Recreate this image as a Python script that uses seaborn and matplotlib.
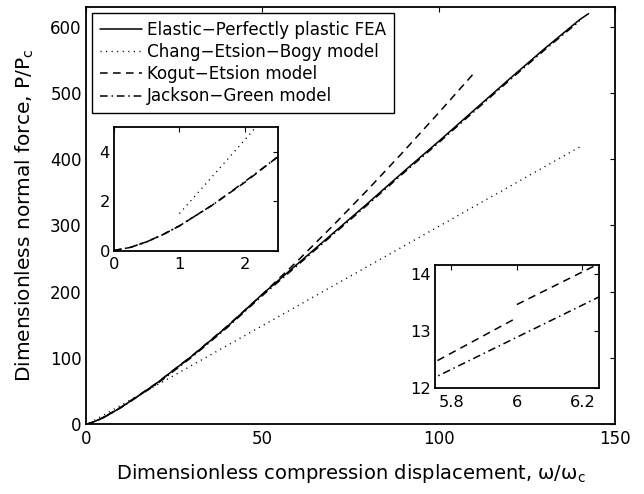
import matplotlib
matplotlib.use("Agg")
import matplotlib.pyplot as plt
import seaborn as sns
import pandas as pd

# ---- data ----
fea_x = [0, 0.5, 1, 2, 5, 10, 15, 20, 30, 40, 50, 60, 70, 80, 90, 100, 110, 120, 130, 140, 142.5]
fea_y = [0, 0.35, 1, 2.8, 9.6, 25.3, 43, 61.5, 102.5, 147, 196, 242, 288, 334, 381, 427, 474, 521, 567, 611, 620]

ceb_x = [0, 0.25, 0.5, 0.75, 1.0, 1.0, 2.0, 50, 100, 141]
ceb_y = [0, 0.125, 0.354, 0.65, 1.0, 1.5, 4.5, 148.5, 298.5, 421.5]

ke_x = [0, 0.25, 0.5, 0.75, 1.0, 1.5, 2.0, 2.5, 4.0, 5.75, 6.0, 6.0, 6.25, 10, 20, 30, 40, 50, 60, 70, 80, 90, 100, 110]
ke_y = [0, 0.125, 0.354, 0.65, 1.0, 1.84, 2.77, 3.80, 7.43, 12.46, 13.23, 13.46, 14.17, 25.65, 61.6, 102.8, 147.7, 195.8, 246.5, 299.6, 354.6, 411.5, 470.1, 530]

jg_x = [0, 0.25, 0.5, 0.75, 1.0, 1.5, 2.0, 2.5, 4.0, 5.75, 6.0, 6.25, 10, 20, 30, 40, 50, 60, 70, 80, 90, 100, 110, 120, 130, 140]
jg_y = [0, 0.125, 0.354, 0.65, 1.0, 1.84, 2.80, 3.80, 7.5, 12.19, 12.89, 13.59, 25, 60, 101, 145.5, 194, 240, 286, 332, 379, 425, 472, 519, 565, 609]

labels = ["Elastic\u2212Perfectly plastic FEA", "Chang\u2212Etsion\u2212Bogy model",
          "Kogut\u2212Etsion model", "Jackson\u2212Green model"]

x_ticks = [0, 50, 100, 150]
y_ticks = [0, 100, 200, 300, 400, 500, 600]
in1_xticks = [0, 1, 2]
in1_yticks = [0, 2, 4]
in2_xticks = [5.8, 6.0, 6.2]
in2_xticklabels = ["5.8", "6", "6.2"]
in2_yticks = [12, 13, 14]

sns.set_style("white")
plt.rcParams["font.family"] = ["DejaVu Sans"]
plt.rcParams["mathtext.fontset"] = "dejavusans"
plt.rcParams["text.color"] = "black"
plt.rcParams["axes.labelcolor"] = "black"
plt.rcParams["xtick.color"] = "black"
plt.rcParams["ytick.color"] = "black"

fig = plt.figure(figsize=(6.44, 4.94), dpi=100)
ax = fig.add_axes([0.1335, 0.1417, 0.8215, 0.8441])

styles = {
    "fea": dict(linestyle="-", lw=1.1),
    "ceb": dict(linestyle=(0, (0.8, 3.2)), lw=1.0),
    "ke": dict(linestyle=(0, (5, 3.5)), lw=1.1),
    "jg": dict(linestyle=(0, (5, 2.5, 1, 2.5)), lw=1.1),
}
series = {
    "fea": (fea_x, fea_y),
    "ceb": (ceb_x, ceb_y),
    "ke": (ke_x, ke_y),
    "jg": (jg_x, jg_y),
}


def pieces(xs, ys):
    # split a series where the x value repeats (a jump between model branches)
    out, start = [], 0
    for i in range(1, len(xs)):
        if xs[i] == xs[i - 1]:
            out.append((xs[start:i], ys[start:i]))
            start = i
    out.append((xs[start:], ys[start:]))
    return out


def draw(a, keys, with_label):
    for k, lab in zip(["fea", "ceb", "ke", "jg"], labels):
        if k not in keys:
            continue
        xs, ys = series[k]
        for j, (px, py) in enumerate(pieces(xs, ys)):
            df = pd.DataFrame({"x": px, "y": py})
            sns.lineplot(data=df, x="x", y="y", ax=a, color="black", estimator=None,
                         sort=False, label=lab if (with_label and j == 0) else None,
                         **styles[k])


def frame(a, lw, size):
    for s in a.spines.values():
        s.set_visible(True)
        s.set_color("black")
        s.set_linewidth(lw)
    a.tick_params(direction="in", top=True, right=True, length=3.5, width=0.8,
                  colors="black", labelsize=size, pad=4.5)
    a.set_xlabel("")
    a.set_ylabel("")


draw(ax, ["fea", "ceb", "ke", "jg"], True)
ax.set_xlim(0, 150)
ax.set_ylim(0, 630)
ax.set_xticks(x_ticks)
ax.set_yticks(y_ticks)
frame(ax, 1.3, 12)
ax.tick_params(axis="y", pad=3)
ax.set_xlabel("Dimensionless compression displacement, \u03c9/\u03c9$_\\mathregular{c}$",
              fontsize=14, labelpad=10, color="black")
ax.set_ylabel("Dimensionless normal force, P/P$_\\mathregular{c}$", fontsize=14.5,
              labelpad=10, color="black")

leg = ax.legend(loc="upper left", bbox_to_anchor=(0.012, 0.985), fontsize=12.1,
                frameon=True, fancybox=False, edgecolor="black", framealpha=1,
                handlelength=2.5, handletextpad=0.3, labelspacing=0.25,
                borderpad=0.45, borderaxespad=0)
leg.get_frame().set_linewidth(1.0)
for t in leg.get_texts():
    t.set_color("black")

# inset 1
ax1 = fig.add_axes([0.177, 0.4929, 0.2542, 0.2494])
draw(ax1, ["ceb", "ke", "jg"], False)
ax1.set_xlim(0, 2.5)
ax1.set_ylim(0, 5)
ax1.set_xticks(in1_xticks)
ax1.set_yticks(in1_yticks)
frame(ax1, 1.3, 11.7)
ax1.tick_params(axis="y", pad=3)

# inset 2
ax2 = fig.add_axes([0.6755, 0.214, 0.2541, 0.2496])
draw(ax2, ["ke", "jg"], False)
ax2.set_xlim(5.75, 6.25)
ax2.set_ylim(12, 14.15)
ax2.set_xticks(in2_xticks)
ax2.set_xticklabels(in2_xticklabels)
ax2.set_yticks(in2_yticks)
frame(ax2, 1.3, 11.7)
ax2.tick_params(axis="y", pad=3)

fig.savefig("out.png", dpi=100)
